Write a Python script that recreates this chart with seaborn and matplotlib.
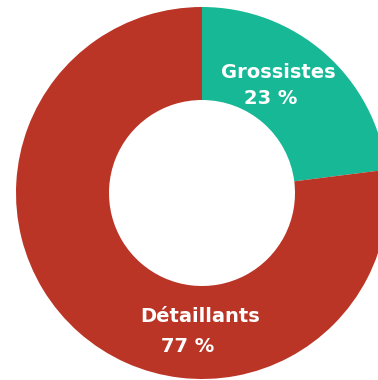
import matplotlib
matplotlib.use("Agg")
import matplotlib.pyplot as plt
import seaborn as sns

# Sales split by customer type
categories = ["Grossistes", "Détaillants"]
shares = [23, 77]
colors = ["#16B896", "#BB3526"]

sns.set_theme(style="white")
plt.rcParams["font.family"] = ["DejaVu Sans"]

fig = plt.figure(figsize=(3.78, 3.80), dpi=100)
ax = fig.add_axes([0, 0, 1, 1])

outer_r = 186
hole_r = 93
ax.pie(shares, colors=colors, startangle=90, counterclock=False,
       radius=outer_r, center=(0, 0),
       wedgeprops=dict(width=outer_r - hole_r, linewidth=0, antialiased=True))

ax.set_xlim(-202, 176)
ax.set_ylim(-187, 193)
ax.set_aspect("equal")
ax.axis("off")

# Labels: category name and percentage on two lines
label_pos = {"Grossistes": ((76, 121), (69, 95)),
             "Détaillants": ((-2, -124), (-14, -153))}
for cat, val in zip(categories, shares):
    (nx, ny), (px, py) = label_pos[cat]
    ax.text(nx, ny, cat, color="white", fontsize=14, fontweight="bold",
            ha="center", va="center")
    ax.text(px, py, f"{val} %", color="white", fontsize=14, fontweight="bold",
            ha="center", va="center")

fig.savefig("out.png", dpi=100, facecolor="white")
